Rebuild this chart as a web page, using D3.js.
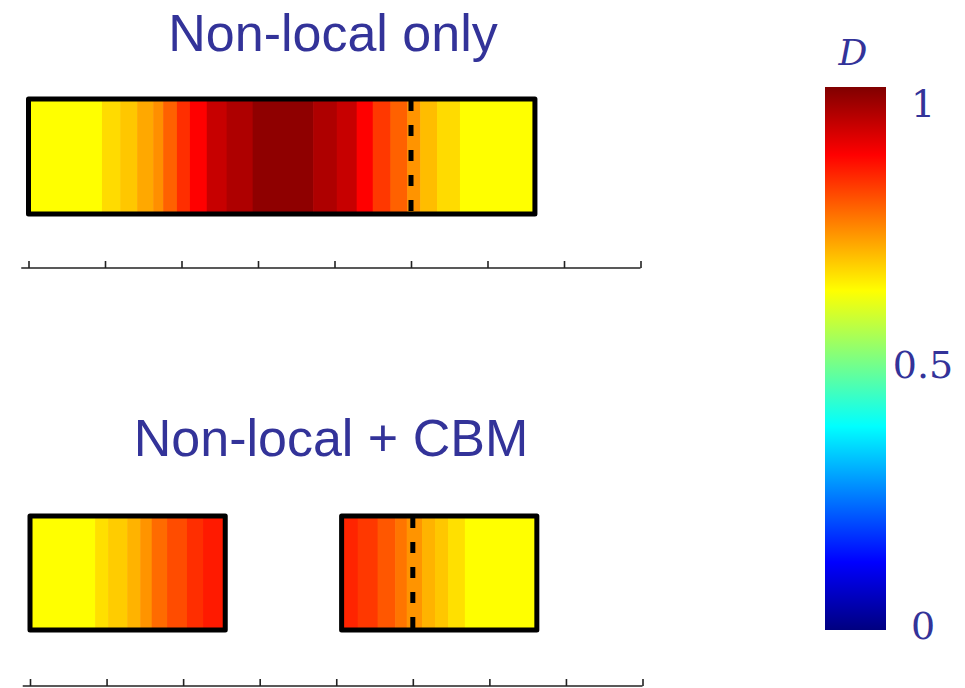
<!DOCTYPE html>
<html>
<head>
<meta charset="utf-8">
<script src="https://cdn.jsdelivr.net/npm/d3@7"></script>
<style>
  html, body { margin: 0; padding: 0; background: #fff; }
  svg { display: block; }
</style>
</head>
<body>
<svg id="chart" width="965" height="688"></svg>
<script>
// Position along the specimen (axis units) and damage D per element band
const positionTicks = [0, 10, 20, 30, 40, 50, 60, 70, 80];
const notchPosition = 50;

// Non-local only: one continuous bar
const nonlocalEdges = [0, 9.6, 12.0, 14.2, 16.3, 17.6, 19.4, 21.1, 23.3, 25.9, 29.3, 37.2, 40.3, 42.9, 45.0, 47.3, 49.5, 51.2, 53.4, 56.4, 66.2];
const nonlocalD = [0.625, 0.66, 0.68, 0.71, 0.735, 0.78, 0.83, 0.875, 0.93, 0.955, 0.985, 0.955, 0.93, 0.875, 0.82, 0.78, 0.73, 0.69, 0.66, 0.625];

// Non-local + CBM: two pieces separated by the crack band
const cbmLeftEdges = [0, 8.5, 10.2, 12.7, 14.4, 15.9, 17.9, 20.5, 22.6, 25.5];
const cbmLeftD = [0.625, 0.655, 0.675, 0.70, 0.73, 0.77, 0.80, 0.83, 0.85];
const cbmRightEdges = [40.7, 42.8, 45.4, 47.7, 49.2, 51.2, 52.9, 54.6, 56.8, 66.2];
const cbmRightD = [0.84, 0.82, 0.79, 0.76, 0.73, 0.70, 0.68, 0.655, 0.625];

// Colour bar
const colorbarTicks = [0, 0.5, 1];
const colorbarTickLabels = ["0", "0.5", "1"];
const titles = ["Non-local only", "Non-local + CBM"];

const svg = d3.select("#chart");
const textColor = "#333399";

// Jet colour map
const jet = d3.scaleLinear()
  .domain([0, 0.125, 0.375, 0.625, 0.875, 1])
  .range(["#000080", "#0000ff", "#00ffff", "#ffff00", "#ff0000", "#800000"])
  .interpolate(d3.interpolateRgb)
  .clamp(true);

function drawBar(g, x, edges, values, y0, y1, notch) {
  const cells = values.map((d, i) => ({ a: edges[i], b: edges[i + 1], d }));
  g.selectAll(null).data(cells).enter().append("rect")
    .attr("x", c => x(c.a))
    .attr("y", y0)
    .attr("width", c => x(c.b) - x(c.a) + 0.6)
    .attr("height", y1 - y0)
    .attr("fill", c => jet(c.d));
  if (notch != null && notch > edges[0] && notch < edges[edges.length - 1]) {
    g.append("line")
      .attr("x1", x(notch)).attr("x2", x(notch))
      .attr("y1", y0 + 1).attr("y2", y1)
      .attr("stroke", "#000")
      .attr("stroke-width", 5)
      .attr("stroke-dasharray", "11,14");
  }
  g.append("rect")
    .attr("x", x(edges[0]))
    .attr("y", y0)
    .attr("width", x(edges[edges.length - 1]) - x(edges[0]))
    .attr("height", y1 - y0)
    .attr("fill", "none")
    .attr("stroke", "#000")
    .attr("stroke-width", 5)
    .attr("stroke-linejoin", "round");
}

function drawAxis(x, yAxis) {
  const g = svg.append("g").attr("transform", `translate(0,${yAxis})`);
  g.call(d3.axisTop(x).tickValues(positionTicks).tickSize(7).tickFormat(""));
  g.select(".domain").remove();
  g.selectAll(".tick line").attr("stroke", "#222").attr("stroke-width", 1.6);
  g.append("line")
    .attr("x1", x(-0.95)).attr("x2", x(80))
    .attr("y1", 0).attr("y2", 0)
    .attr("stroke", "#222").attr("stroke-width", 1.6);
}

// Top panel
const xTop = d3.scaleLinear().domain([0, 80]).range([28.5, 640.5]);
svg.append("text")
  .attr("x", 333).attr("y", 51)
  .attr("text-anchor", "middle")
  .attr("font-family", "Liberation Sans, Arial, sans-serif")
  .attr("font-size", 52)
  .attr("fill", textColor)
  .text(titles[0]);
drawBar(svg.append("g"), xTop, nonlocalEdges, nonlocalD, 99, 214, notchPosition);
drawAxis(xTop, 268);

// Bottom panel
const xBot = d3.scaleLinear().domain([0, 80]).range([30, 642.5]);
svg.append("text")
  .attr("x", 331).attr("y", 456)
  .attr("text-anchor", "middle")
  .attr("font-family", "Liberation Sans, Arial, sans-serif")
  .attr("font-size", 52)
  .attr("fill", textColor)
  .text(titles[1]);
drawBar(svg.append("g"), xBot, cbmLeftEdges, cbmLeftD, 516, 630, notchPosition);
drawBar(svg.append("g"), xBot, cbmRightEdges, cbmRightD, 516, 630, notchPosition);
drawAxis(xBot, 686);

// Colour bar
const cbX = 825, cbW = 61, cbTop = 87, cbBot = 630;
const defs = svg.append("defs");
const grad = defs.append("linearGradient")
  .attr("id", "jetGrad")
  .attr("x1", 0).attr("y1", 1).attr("x2", 0).attr("y2", 0);
grad.selectAll("stop").data(jet.domain()).enter().append("stop")
  .attr("offset", d => d)
  .attr("stop-color", d => jet(d));
svg.append("rect")
  .attr("x", cbX).attr("y", cbTop)
  .attr("width", cbW).attr("height", cbBot - cbTop)
  .attr("fill", "url(#jetGrad)");

const yCb = d3.scaleLinear().domain([0, 1]).range([625, 103]);
svg.selectAll(".cbTick").data(colorbarTicks).enter().append("text")
  .attr("class", "cbTick")
  .attr("x", 923)
  .attr("y", d => yCb(d))
  .attr("dy", "0.36em")
  .attr("text-anchor", "middle")
  .attr("font-family", "DejaVu Serif, serif")
  .attr("font-size", 38)
  .attr("fill", textColor)
  .text((d, i) => colorbarTickLabels[i]);

svg.append("text")
  .attr("x", 853).attr("y", 65)
  .attr("text-anchor", "middle")
  .attr("font-family", "DejaVu Serif, serif")
  .attr("font-style", "italic")
  .attr("font-size", 36)
  .attr("fill", textColor)
  .text("D");
</script>
</body>
</html>
